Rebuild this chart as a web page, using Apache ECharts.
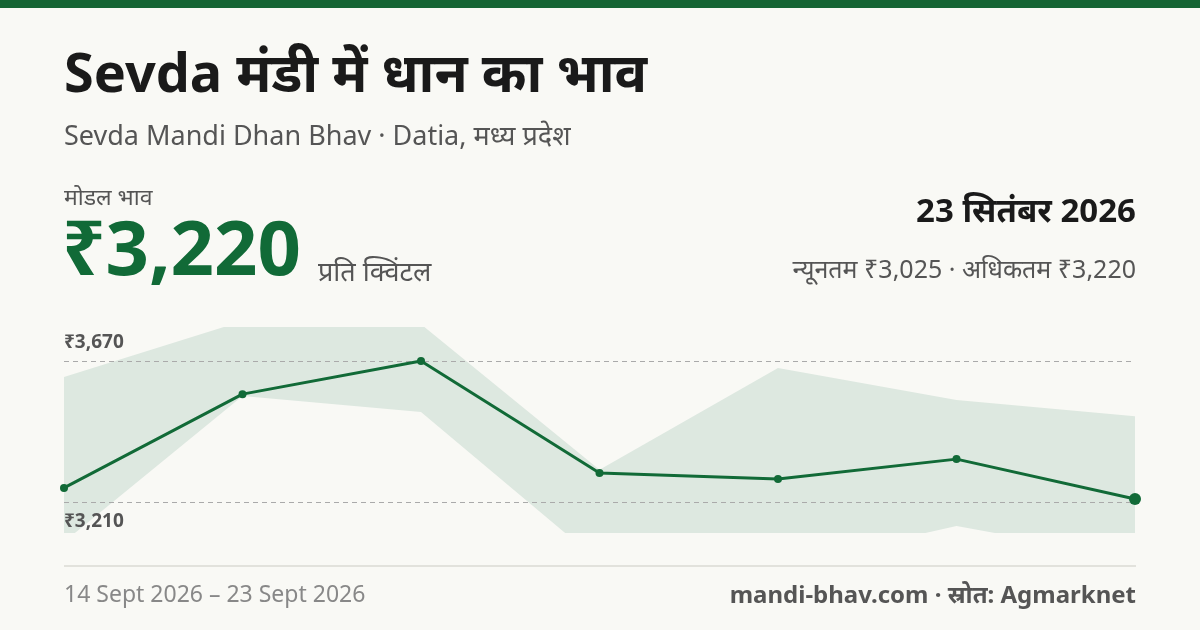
<!DOCTYPE html><html><head><meta charset="utf-8">
<script src="https://cdn.jsdelivr.net/npm/echarts@6/dist/echarts.min.js"></script>
<style>body{margin:0;background:#f9f9f5}#c{width:1200px;height:630px}</style></head><body><div id="c"></div>
<script>
const dates=['14 Sept','15 Sept','16 Sept','17 Sept','18 Sept','19 Sept','23 Sept'];
const modal=[3256,3562,3670,3305,3285,3350,3220];
const minP=[3080,3556,3504,3015,3000,3132,3025];
const maxP=[3618,3800,3790,3315,3647,3543,3490];
const refLines=[{v:3670,t:'₹3,670'},{v:3210,t:'₹3,210'}];
const diff=maxP.map((v,i)=>v-minP[i]);
const F='"Noto Sans","Noto Sans Devanagari",sans-serif';
const G='#116a37';
const YMIN=3109,YMAX=3781,TOP=327,H=206;
const yPix=v=>TOP+(YMAX-v)/(YMAX-YMIN)*H;
const c=echarts.init(document.getElementById('c'));
c.setOption({
 backgroundColor:'#f9f9f5',animation:false,
 graphic:[
  {type:'rect',shape:{x:0,y:0,width:1200,height:8},style:{fill:'#166534'}},
  {type:'text',left:64,top:50,style:{text:'Sevda मंडी में धान का भाव',font:'bold 54px '+F,fill:'#1a1a1a'}},
  {type:'text',left:64,top:124,style:{text:'Sevda Mandi Dhan Bhav · Datia, मध्य प्रदेश',font:'27px '+F,fill:'#555'}},
  {type:'text',left:64,top:187,style:{text:'मोडल भाव',font:'23px '+F,fill:'#555'}},
  {type:'text',left:62,top:215,style:{text:'₹3,220',font:'bold 76px '+F,fill:G}},
  {type:'text',left:318,top:260,style:{text:'प्रति क्विंटल',font:'27px '+F,fill:'#555'}},
  {type:'text',right:64,top:196,style:{text:'23 सितंबर 2026',font:'bold 33px '+F,fill:'#1a1a1a',align:'right'}},
  {type:'text',right:64,top:258,style:{text:'न्यूनतम ₹3,025 · अधिकतम ₹3,220',font:'25px '+F,fill:'#555',align:'right'}},
  {type:'rect',shape:{x:64,y:565,width:1072,height:2},style:{fill:'#e2e2dc'}},
  {type:'text',left:64,top:584,style:{text:'14 Sept 2026 – 23 Sept 2026',font:'23px '+F,fill:'#888'}},
  {type:'text',right:64,top:584,style:{text:'mandi-bhav.com · स्रोत: Agmarknet',font:'bold 24px '+F,fill:'#555',align:'right'}}
 ].concat(refLines.map((r,i)=>({type:'text',left:64,top:i===0?yPix(r.v)-28:yPix(r.v)+10,z:100,
   style:{text:r.t,font:'bold 19px '+F,fill:'#555'}}))),
 grid:{left:64,right:65,top:TOP,height:H},
 xAxis:{type:'category',data:dates,boundaryGap:false,show:false},
 yAxis:{type:'value',min:YMIN,max:YMAX,show:false},
 series:[
  {type:'line',data:minP,stack:'b',symbol:'none',lineStyle:{width:0},clip:true},
  {type:'line',data:diff,stack:'b',symbol:'none',lineStyle:{width:0},areaStyle:{color:'#dde8e0',opacity:1},clip:true},
  {type:'line',data:modal,symbol:'circle',symbolSize:(v,p)=>p.dataIndex===modal.length-1?12:8,
   itemStyle:{color:G},lineStyle:{color:G,width:3},z:5,
   markLine:{symbol:'none',silent:true,lineStyle:{color:'#aaa',type:[5,4],width:1},
    label:{show:false},data:refLines.map(r=>({yAxis:r.v}))}}
 ]
});
</script></body></html>
